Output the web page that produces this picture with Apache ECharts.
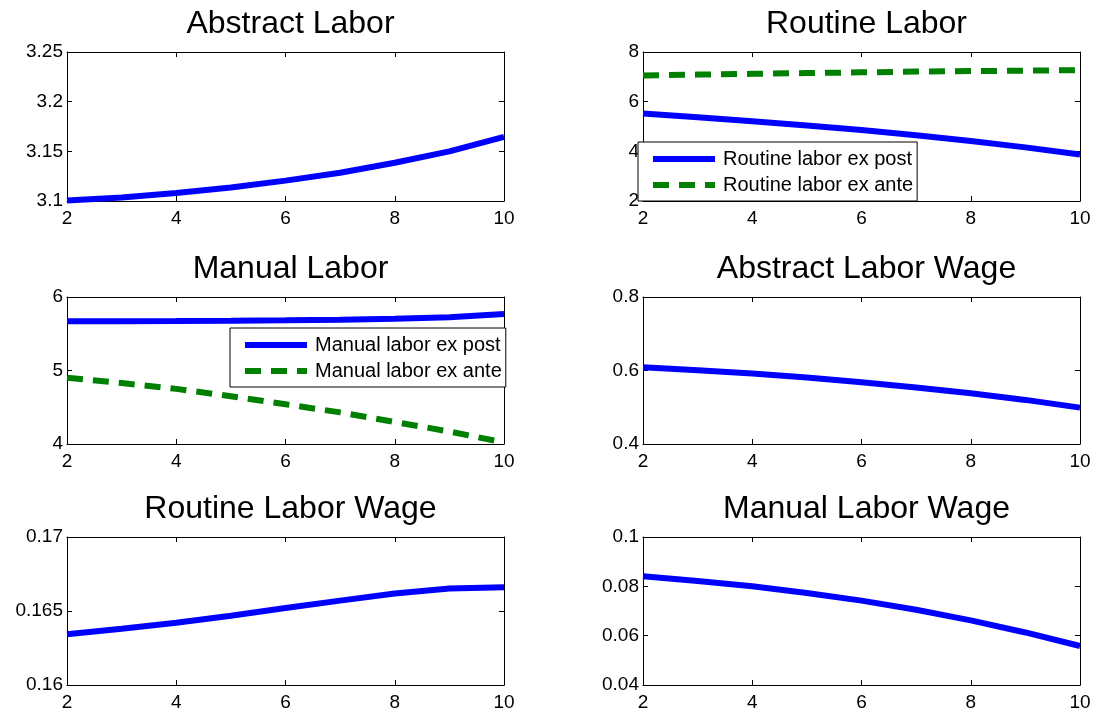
<!DOCTYPE html>
<html>
<head>
<meta charset="utf-8">
<script src="https://cdn.jsdelivr.net/npm/echarts@6/dist/echarts.min.js"></script>
<style>
  html, body { margin: 0; padding: 0; background: #fff; }
  #main { width: 1096px; height: 717px; }
</style>
</head>
<body>
<div id="main"></div>
<script>
var periods = [2, 3, 4, 5, 6, 7, 8, 9, 10];

var abstractLabor = [3.1005, 3.1035, 3.108, 3.1135, 3.1205, 3.1285, 3.1385, 3.150, 3.1645];
var routineExPost = [5.52, 5.37, 5.21, 5.04, 4.86, 4.65, 4.42, 4.16, 3.87];
var routineExAnte = [7.05, 7.09, 7.12, 7.15, 7.18, 7.21, 7.23, 7.25, 7.27];
var manualExPost = [5.67, 5.671, 5.673, 5.677, 5.683, 5.692, 5.705, 5.725, 5.77];
var manualExAnte = [4.9, 4.83, 4.75, 4.65, 4.54, 4.43, 4.3, 4.17, 4.02];
var abstractWage = [0.609, 0.601, 0.592, 0.581, 0.568, 0.554, 0.538, 0.520, 0.499];
var routineWage = [0.16343, 0.1638, 0.16421, 0.16468, 0.1652, 0.1657, 0.16618, 0.16652, 0.16661];
var manualWage = [0.0841, 0.0822, 0.0800, 0.0773, 0.0742, 0.0705, 0.0662, 0.0613, 0.0558];

var titles = ['Abstract Labor', 'Routine Labor', 'Manual Labor',
              'Abstract Labor Wage', 'Routine Labor Wage', 'Manual Labor Wage'];
// [min, max, interval] for each panel's y axis
var yRanges = [[3.1, 3.25, 0.05], [2, 8, 2], [4, 6, 1],
               [0.4, 0.8, 0.2], [0.16, 0.17, 0.005], [0.04, 0.1, 0.02]];

var FONT = '"Liberation Sans", Arial, Helvetica, sans-serif';
var BLUE = '#0000ff', GREEN = '#008000';

// panel boxes in pixels
var colLeft = [67, 643], colWidth = 437;
var rowTop = [52, 297, 537], rowHeight = [149, 147, 148];

function pair(arr) {
    return periods.map(function (p, i) { return [p, arr[i]]; });
}

var grids = [], xAxes = [], yAxes = [], titleOpts = [];
for (var i = 0; i < 6; i++) {
    var c = i % 2, r = Math.floor(i / 2);
    grids.push({
        left: colLeft[c], top: rowTop[r], width: colWidth, height: rowHeight[r],
        containLabel: false
    });
    titleOpts.push({
        text: titles[i],
        left: colLeft[c] + colWidth / 2,
        top: rowTop[r] - 49,
        textAlign: 'center',
        textStyle: { fontFamily: FONT, fontSize: 32, fontWeight: 'normal', color: '#000' }
    });
}

// main axes 0..5, mirror axes (top / right) 6..11
for (var k = 0; k < 12; k++) {
    var g = k % 6, mirror = k >= 6;
    xAxes.push({
        type: 'value', gridIndex: g, min: 2, max: 10, interval: 2,
        position: mirror ? 'top' : 'bottom',
        axisLine: { show: true, onZero: false, lineStyle: { color: '#000', width: 1 } },
        axisTick: { show: true, inside: true, length: 5, lineStyle: { color: '#000' } },
        axisLabel: { show: !mirror, color: '#000', fontFamily: FONT, fontSize: 19, margin: 8 },
        splitLine: { show: false }
    });
    yAxes.push({
        type: 'value', gridIndex: g,
        min: yRanges[g][0], max: yRanges[g][1], interval: yRanges[g][2],
        position: mirror ? 'right' : 'left',
        axisLine: { show: true, onZero: false, lineStyle: { color: '#000', width: 1 } },
        axisTick: { show: true, inside: true, length: 5, lineStyle: { color: '#000' } },
        axisLabel: { show: !mirror, color: '#000', fontFamily: FONT, fontSize: 19, margin: 4 },
        splitLine: { show: false }
    });
}

function line(name, data, g, color, dashed) {
    return {
        name: name, type: 'line', xAxisIndex: g, yAxisIndex: g,
        data: pair(data), symbol: 'none', animation: false,
        lineStyle: { color: color, width: 6, type: dashed ? [16, 10] : 'solid' },
        itemStyle: { color: color }
    };
}

var series = [
    line('Abstract labor', abstractLabor, 0, BLUE, false),
    line('Routine labor ex post', routineExPost, 1, BLUE, false),
    line('Routine labor ex ante', routineExAnte, 1, GREEN, true),
    line('Manual labor ex post', manualExPost, 2, BLUE, false),
    line('Manual labor ex ante', manualExAnte, 2, GREEN, true),
    line('Abstract labor wage', abstractWage, 3, BLUE, false),
    line('Routine labor wage', routineWage, 4, BLUE, false),
    line('Manual labor wage', manualWage, 5, BLUE, false)
];

var legendBase = {
    orient: 'vertical', itemWidth: 62, itemHeight: 14, itemGap: 6,
    backgroundColor: '#fff', borderColor: '#000', borderWidth: 1,
    padding: [7, 4, 6, 12],
    itemStyle: { opacity: 0 },
    lineStyle: { width: 6 },
    textStyle: { fontFamily: FONT, fontSize: 20, color: '#000', padding: [0, 0, 0, 3] }
};

var option = {
    backgroundColor: '#fff',
    animation: false,
    title: titleOpts,
    grid: grids,
    xAxis: xAxes,
    yAxis: yAxes,
    legend: [
        Object.assign({}, legendBase, {
            data: ['Routine labor ex post', 'Routine labor ex ante'],
            left: 638, top: 142
        }),
        Object.assign({}, legendBase, {
            data: ['Manual labor ex post', 'Manual labor ex ante'],
            left: 230, top: 328
        })
    ],
    series: series
};

var chart = echarts.init(document.getElementById('main'));
chart.setOption(option);
</script>
</body>
</html>
